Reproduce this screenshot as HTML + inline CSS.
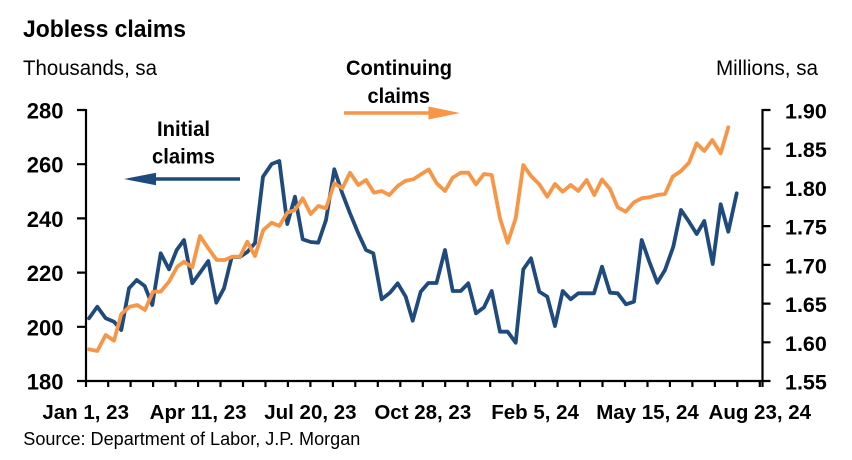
<!DOCTYPE html>
<html>
<head>
<meta charset="utf-8">
<style>
  html,body{margin:0;padding:0;background:#fff;}
  svg{display:block;}
  text{font-family:"Liberation Sans",Arial,sans-serif;fill:#000;}
  .b{font-weight:bold;}
</style>
</head>
<body>
<svg width="852" height="460" viewBox="0 0 852 460" xmlns="http://www.w3.org/2000/svg">
  <rect width="852" height="460" fill="#fff"/>

  <!-- Titles -->
  <text class="b" x="23" y="37" font-size="24" textLength="163" lengthAdjust="spacingAndGlyphs">Jobless claims</text>
  <text x="23" y="75" font-size="21" textLength="134" lengthAdjust="spacingAndGlyphs">Thousands, sa</text>
  <text x="716" y="75" font-size="21" textLength="102" lengthAdjust="spacingAndGlyphs">Millions, sa</text>

  <!-- Continuing claims annotation -->
  <text class="b" x="346" y="75" font-size="21" textLength="106" lengthAdjust="spacingAndGlyphs">Continuing</text>
  <text class="b" x="367.5" y="103" font-size="21" textLength="62.5" lengthAdjust="spacingAndGlyphs">claims</text>
  <line x1="344" y1="113" x2="431" y2="113" stroke="#F79646" stroke-width="3.4"/>
  <polygon points="428.5,106.5 460,113 428.5,119.5" fill="#F79646"/>

  <!-- Initial claims annotation -->
  <text class="b" x="157" y="136" font-size="21" textLength="53" lengthAdjust="spacingAndGlyphs">Initial</text>
  <text class="b" x="152" y="163.5" font-size="21" textLength="63" lengthAdjust="spacingAndGlyphs">claims</text>
  <line x1="240" y1="179" x2="153" y2="179" stroke="#1F4A7E" stroke-width="3.4"/>
  <polygon points="156,172.7 124,179 156,185.3" fill="#1F4A7E"/>

  <!-- Axes -->
  <g stroke="#000" stroke-width="2.2" fill="none">
    <line x1="86" y1="109" x2="86" y2="387"/>
    <line x1="762.5" y1="109" x2="762.5" y2="387"/>
    <line x1="85" y1="381" x2="763.5" y2="381"/>
    <!-- left ticks -->
    <path d="M77 110H86M77 164.2H86M77 218.4H86M77 272.6H86M77 326.8H86M77 381H86"/>
    <!-- right ticks -->
    <path d="M762.5 110H770.5M762.5 148.7H770.5M762.5 187.4H770.5M762.5 226.1H770.5M762.5 264.9H770.5M762.5 303.6H770.5M762.5 342.3H770.5M762.5 381H770.5"/>
    <!-- x ticks -->
    <path d="M108.2 381V387M130.6 381V387M153.1 381V387M175.6 381V387M198.1 381V387M220.5 381V387M243 381V387M265.5 381V387M287.9 381V387M310.4 381V387M332.9 381V387M355.3 381V387M377.8 381V387M400.3 381V387M422.8 381V387M445.2 381V387M467.7 381V387M490.2 381V387M512.6 381V387M535.1 381V387M557.6 381V387M580 381V387M602.5 381V387M625 381V387M647.5 381V387M669.9 381V387M692.4 381V387M714.9 381V387M737.3 381V387M759.8 381V387"/>
  </g>

  <!-- Left y labels -->
  <g class="b" font-size="22" text-anchor="end">
    <text x="63.5" y="118.5">280</text>
    <text x="63.5" y="172.7">260</text>
    <text x="63.5" y="226.9">240</text>
    <text x="63.5" y="281.1">220</text>
    <text x="63.5" y="335.3">200</text>
    <text x="63.5" y="389.5">180</text>
  </g>

  <!-- Right y labels -->
  <g class="b" font-size="21.5">
    <text x="785" y="118.5">1.90</text>
    <text x="785" y="157.2">1.85</text>
    <text x="785" y="195.9">1.80</text>
    <text x="785" y="234.6">1.75</text>
    <text x="785" y="273.4">1.70</text>
    <text x="785" y="312.1">1.65</text>
    <text x="785" y="350.8">1.60</text>
    <text x="785" y="389.5">1.55</text>
  </g>

  <!-- X labels -->
  <g class="b" font-size="20.5" text-anchor="middle">
    <text x="85.7" y="419">Jan 1, 23</text>
    <text x="198.1" y="419">Apr 11, 23</text>
    <text x="310.4" y="419">Jul 20, 23</text>
    <text x="422.8" y="419">Oct 28, 23</text>
    <text x="535.1" y="419">Feb 5, 24</text>
    <text x="647.5" y="419">May 15, 24</text>
    <text x="759.8" y="419">Aug 23, 24</text>
  </g>

  <text x="23.3" y="445" font-size="18" textLength="337" lengthAdjust="spacingAndGlyphs">Source: Department of Labor, J.P. Morgan</text>

  <!-- Initial claims (blue) -->
  <polyline fill="none" stroke="#1F4A7E" stroke-width="3.8" stroke-linejoin="round" stroke-linecap="round"
    points="89,318.3 97.3,306.7 105.7,318.3 114,321.7 121.3,330 129,288.3 136.7,280 144.7,286 152.3,305 160.7,253.3 169,269.3 176.7,250 184,240 192.3,283.3 200.7,271.7 208.3,261 216.3,302.7 224,288.3 231.7,257 239.7,257 247.3,252 255,243 263,176.7 271.7,164 279.3,161 287.3,224 295,196.7 302.7,239.3 310.7,242 318.3,242.7 326,220 334.3,169.3 342.3,193.3 350,213.3 358.3,233.3 366,250 373.3,253.3 381.7,299.3 390,292.7 397.7,283.3 405.7,296.7 412.7,320.7 420.7,291.7 428.3,283 436.5,283 445,250 452.7,291 460.7,291 468.3,283.3 476,313.3 484,307.3 491.7,291 500,331.7 507.7,331.7 515.7,342.7 523.3,269.3 531,258.3 539.3,291.7 547.3,296.7 555,326 562.7,291 570.7,299.3 578.3,293.3 586,293.3 594,293.3 602,266.7 610,292.7 617.7,293.3 626,304.3 634,301.7 641.7,240 649.3,261.7 657.3,282.7 665,270 673.3,246.7 681,210 689,221.7 696.7,234 704.3,221 712.7,264 720.7,204.3 728.3,231.7 736.7,193.3"/>

  <!-- Continuing claims (orange) -->
  <polyline fill="none" stroke="#F79646" stroke-width="3.8" stroke-linejoin="round" stroke-linecap="round"
    points="89,349.3 97.3,351 105.7,335 114,340.7 121.3,314 129.7,306.7 137.3,305 145,310 153,291.7 160.7,291.7 169,281.7 177.3,266.7 184,261.7 192.3,267.3 200,236 208.3,248.3 216.7,260 224.7,260 232.3,256.7 240,256.7 247.3,241.7 255,256 263.3,230 271.7,222.7 279.3,226 287.3,212.7 295,210 302.7,198.3 310.7,214 318.3,206 326,208.3 334.3,183.3 342.3,188.3 350,172.7 358.3,185 366,180 374,192.7 381.7,191 389.3,195 397.7,186 405.7,180.7 413.3,179.3 421,174.3 428.8,169.5 436.7,183.3 445,191 452.7,177.7 460.7,172.7 468.3,172.7 476,184.3 484,174 491.7,175 500,218.3 507.7,242.7 515.7,218.3 523.3,165 531,176 539.3,184.3 547.3,196.7 555,184 562.7,191.7 570.7,185 578.3,191 586.7,180 594.3,195 602,179.5 610,189 617.7,207.3 625.7,211.7 634,202.3 641.7,198.3 649.3,197.3 657.3,195 665,194 672.7,176.7 681,171 689,162.7 696.7,143.3 704.3,151 712.3,140 720.7,153.3 728.3,127.3"/>
</svg>
</body>
</html>
